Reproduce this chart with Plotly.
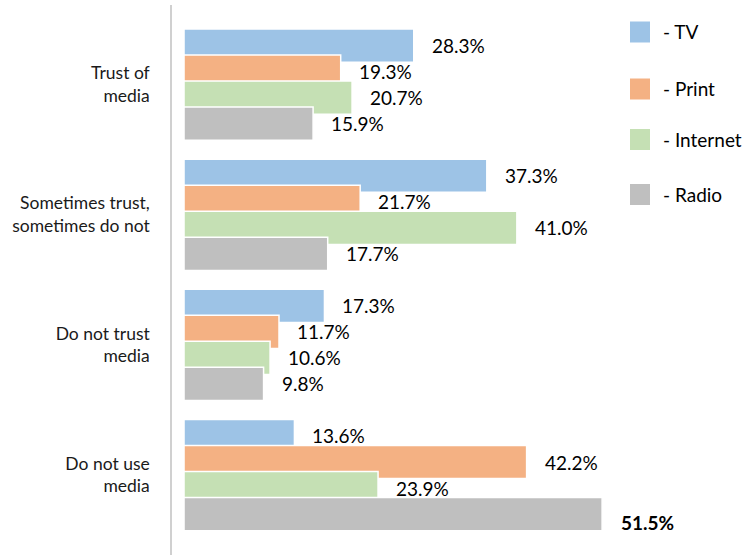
import plotly.graph_objects as go

# Survey results: trust in media by media type (percent of respondents)
categories = ["Trust of<br>media", "Sometimes trust,<br>sometimes do not",
              "Do not trust<br>media", "Do not use<br>media"]
series_names = ["TV", "Print", "Internet", "Radio"]
tv = [28.3, 37.3, 17.3, 13.6]
print_media = [19.3, 21.7, 11.7, 42.2]
internet = [20.7, 41.0, 10.6, 23.9]
radio = [15.9, 17.7, 9.8, 51.5]
series_values = [tv, print_media, internet, radio]

colors = ["#9DC3E6", "#F4B183", "#C5E0B4", "#BFBFBF"]
FONT = "Lato"
FS = 19
FS_CAT = 17.5

# bar geometry in category units (overlapping rows inside each group)
BAR_W = 0.255
STEP = 0.2
FIRST_OFF = -0.427

fig = go.Figure()
for i, (name, vals) in enumerate(zip(series_names, series_values)):
    off = FIRST_OFF + i * STEP
    fig.add_trace(go.Bar(
        y=categories, x=vals, orientation="h", name=name,
        marker=dict(color=colors[i], line=dict(color="white", width=1.5)),
        width=BAR_W, offset=off, showlegend=False,
        hovertemplate="%{y}: %{x:.1f}%<extra>" + name + "</extra>",
    ))
    # value labels to the right of each bar
    for j, v in enumerate(vals):
        bold = (name == "Radio" and j == 3)
        fig.add_annotation(
            x=v, y=j + off + BAR_W / 2, xref="x", yref="y",
            text=(f"<b>{v:.1f}%</b>" if bold else f"{v:.1f}%"),
            showarrow=False, xanchor="left", yanchor="middle",
            xshift=17 if bold else 16, yshift=-8 if bold else 0,
            font=dict(family=FONT, size=FS, color="#000000"),
        )

# legend: coloured squares with labels on the right
W, H, L, T = 745, 555, 172, 5
pw, ph = W - L, H - T
legend_centers = [32, 89, 139.5, 194.5]
for i, name in enumerate(series_names):
    cy = legend_centers[i]
    fig.add_shape(
        type="rect", xref="paper", yref="paper",
        x0=(630 - L) / pw, x1=(650 - L) / pw,
        y0=1 - (cy + 10.5 - T) / ph, y1=1 - (cy - 10.5 - T) / ph,
        fillcolor=colors[i], line=dict(width=0),
    )
    fig.add_annotation(
        x=(661 - L) / pw, y=1 - (cy - T) / ph, xref="paper", yref="paper",
        text="- " + name, showarrow=False, xanchor="left", yanchor="middle",
        font=dict(family=FONT, size=FS, color="#000000"),
    )

fig.update_layout(
    width=W, height=H,
    margin=dict(l=L, r=0, t=T, b=0),
    barmode="overlay",
    plot_bgcolor="white", paper_bgcolor="white",
    font=dict(family=FONT, size=FS, color="#1a1a1a"),
    xaxis=dict(range=[-1.48, 69.1], visible=False, fixedrange=True),
    yaxis=dict(
        range=[3.615, -0.6115], showgrid=False, zeroline=False,
        showline=True, linecolor="#D0D0D0", linewidth=1.5,
        ticks="", ticklabelstandoff=17,
        tickfont=dict(family=FONT, size=FS_CAT, color="#1a1a1a"),
    ),
)

fig.write_html("out.html")
